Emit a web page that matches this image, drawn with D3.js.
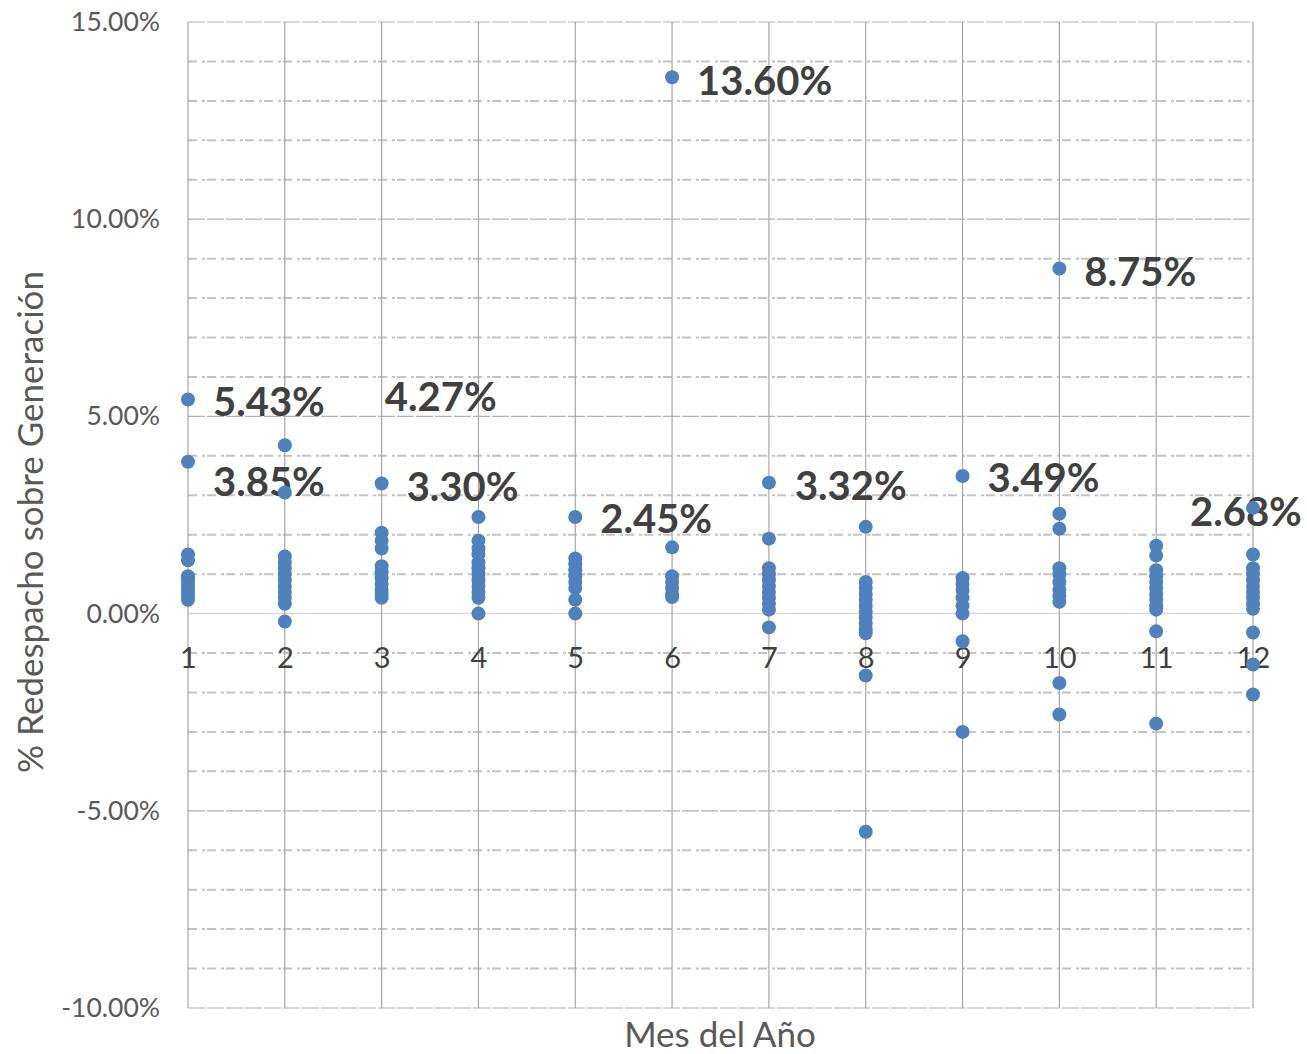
<!DOCTYPE html>
<html>
<head>
<meta charset="utf-8">
<script src="https://cdn.jsdelivr.net/npm/d3@7"></script>
<style>
  body { margin: 0; background: #fff; }
  text { font-family: Lato, "Open Sans", sans-serif; }
</style>
</head>
<body>
<div id="canvas"></div>
<script>
//    data
var months = [1, 2, 3, 4, 5, 6, 7, 8, 9, 10, 11, 12];
var redespacho = [
  [5.43, 3.85, 1.5, 1.35, 0.95, 0.85, 0.75, 0.65, 0.55, 0.45, 0.35],
  [4.27, 3.07, 1.45, 1.3, 1.15, 1.0, 0.85, 0.7, 0.55, 0.4, 0.25, -0.2],
  [3.30, 2.05, 1.85, 1.65, 1.2, 1.05, 0.9, 0.75, 0.6, 0.5, 0.4],
  [2.45, 1.85, 1.65, 1.5, 1.3, 1.15, 1.0, 0.85, 0.7, 0.55, 0.4, 0.0],
  [2.45, 1.4, 1.25, 1.1, 0.95, 0.8, 0.65, 0.35, 0.0],
  [13.60, 1.68, 0.95, 0.8, 0.65, 0.5, 0.42],
  [3.32, 1.9, 1.15, 1.0, 0.85, 0.7, 0.55, 0.4, 0.25, 0.1, -0.35],
  [2.2, 0.8, 0.65, 0.5, 0.35, 0.2, 0.05, -0.1, -0.25, -0.4, -0.5, -1.57, -5.53],
  [3.49, 0.9, 0.75, 0.6, 0.4, 0.2, 0.0, -0.7, -3.0],
  [8.75, 2.53, 2.15, 1.15, 1.0, 0.8, 0.6, 0.45, 0.3, -1.76, -2.56],
  [1.72, 1.47, 1.1, 0.95, 0.8, 0.65, 0.5, 0.35, 0.2, 0.1, -0.45, -2.79],
  [2.68, 1.5, 1.15, 1.0, 0.85, 0.7, 0.55, 0.4, 0.25, 0.12, -0.48, -1.29, -2.05]
];
var labelMonths = [1, 1, 2, 3, 5, 6, 7, 9, 10, 12];
var labelValues = [5.43, 3.85, 4.27, 3.30, 2.45, 13.60, 3.32, 3.49, 8.75, 2.68];
var yTicks = [-10, -5, 0, 5, 10, 15];

//    label offsets from the dot (px)
var labelShift = [[25, 2], [25, 20], [100, -49], [25, 3], [25, 2], [25, 3], [26, 3], [25, 2], [25, 3], [-63, 4]];

//    defination
var W = 1307, H = 1054;
var pLeft = 188, pRight = 1253, pTop = 22, pBottom = 1008;

var x = d3.scaleLinear().domain([1, 12]).range([pLeft, pRight]);
var y = d3.scaleLinear().domain([-10, 15]).range([pBottom, pTop]);

var svg = d3.select('#canvas')
  .append('svg')
  .attr('width', W)
  .attr('height', H);

//    minor gridlines
var minor = d3.range(-10, 16, 1).filter(function(v){ return v % 5 != 0; });
svg.append('g').selectAll('line')
  .data(minor)
  .enter()
  .append('line')
  .attr('x1', pLeft).attr('x2', pRight)
  .attr('y1', function(d){ return y(d); })
  .attr('y2', function(d){ return y(d); })
  .attr('stroke', '#c4c4c4')
  .attr('stroke-width', 2)
  .attr('stroke-dasharray', '9,5,3,2');

//    major gridlines
svg.append('g').selectAll('line')
  .data(yTicks.filter(function(v){ return v != 0; }))
  .enter()
  .append('line')
  .attr('x1', pLeft).attr('x2', pRight)
  .attr('y1', function(d){ return y(d); })
  .attr('y2', function(d){ return y(d); })
  .attr('stroke', '#b3b3b3')
  .attr('stroke-width', 1.2)
  .attr('stroke-dasharray', '17,2');

//    zero line
svg.append('line')
  .attr('x1', pLeft).attr('x2', pRight)
  .attr('y1', y(0)).attr('y2', y(0))
  .attr('stroke', '#d9d9d9')
  .attr('stroke-width', 1.5);

//    vertical lines
svg.append('g').selectAll('line')
  .data(months)
  .enter()
  .append('line')
  .attr('x1', function(d){ return x(d); })
  .attr('x2', function(d){ return x(d); })
  .attr('y1', pTop).attr('y2', pBottom)
  .attr('stroke', '#a6a6a6')
  .attr('stroke-width', 1.2);

//    y axis
var yAxis = svg.append('g')
  .attr('transform', 'translate(' + pLeft + ',0)')
  .call(d3.axisLeft(y).tickValues(yTicks).tickSize(0).tickPadding(28)
    .tickFormat(function(d){ return d.toFixed(2) + '%'; }));
yAxis.select('.domain').remove();
yAxis.selectAll('text')
  .style('font-size', '26.5px')
  .attr('fill', '#595959');

//    x axis
var xAxis = svg.append('g')
  .attr('transform', 'translate(0,' + y(0) + ')')
  .call(d3.axisBottom(x).tickValues(months).tickSize(0).tickPadding(34)
    .tickFormat(d3.format('d')));
xAxis.select('.domain').remove();
xAxis.selectAll('text')
  .style('font-size', '29px')
  .attr('fill', '#404040');

//    titles
svg.append('text')
  .attr('transform', 'translate(43,522) rotate(-90)')
  .attr('text-anchor', 'middle')
  .style('font-size', '35px')
  .attr('fill', '#595959')
  .text('% Redespacho sobre Generación');

svg.append('text')
  .attr('x', 720)
  .attr('y', 1047)
  .attr('text-anchor', 'middle')
  .style('font-size', '35px')
  .attr('fill', '#595959')
  .text('Mes del Año');

//    data labels
svg.append('g').selectAll('text')
  .data(labelValues)
  .enter()
  .append('text')
  .attr('x', function(d, i){ return x(labelMonths[i]) + labelShift[i][0]; })
  .attr('y', function(d, i){ return y(d) + labelShift[i][1]; })
  .attr('dy', '0.36em')
  .style('font-size', '40px')
  .style('font-weight', 'bold')
  .attr('fill', '#404040')
  .text(function(d){ return d.toFixed(2) + '%'; });

//    dots
var points = [];
redespacho.forEach(function(vals, i){
  vals.forEach(function(v){ points.push({ month: months[i], value: v }); });
});
svg.append('g').selectAll('circle')
  .data(points)
  .enter()
  .append('circle')
  .attr('cx', function(d){ return x(d.month); })
  .attr('cy', function(d){ return y(d.value); })
  .attr('r', 7)
  .attr('fill', '#4f81bd');
</script>
</body>
</html>
